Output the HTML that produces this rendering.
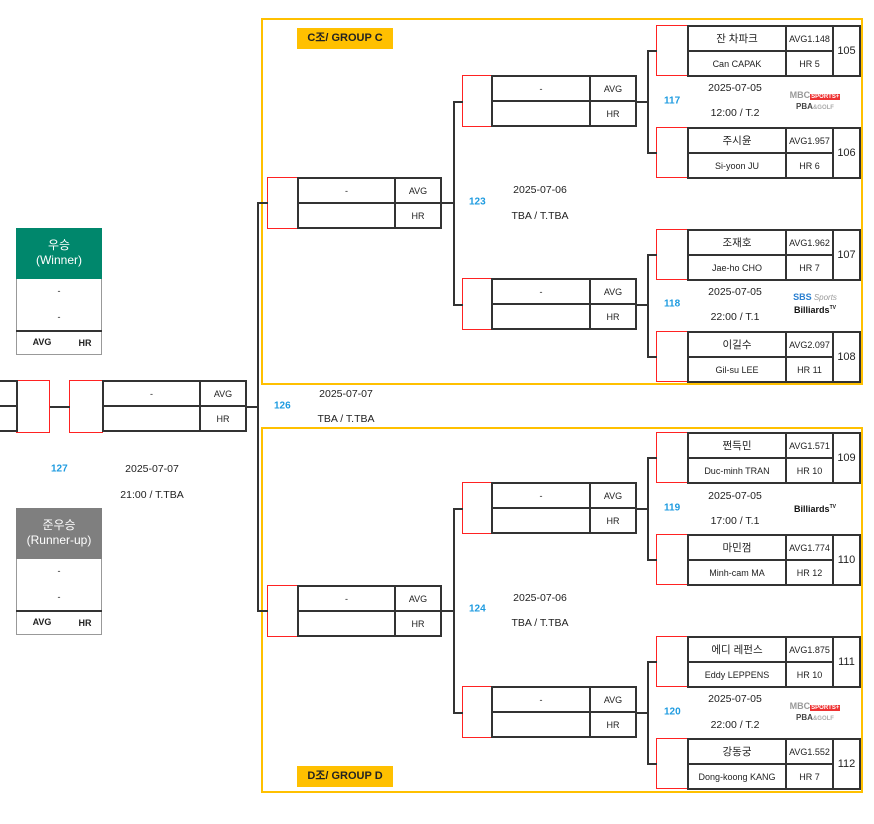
<!DOCTYPE html>
<html><head><meta charset="utf-8"><style>
body{margin:0;width:874px;height:824px;background:#fff;position:relative;overflow:hidden;font-family:"Liberation Sans","Noto Sans CJK KR",sans-serif;color:#222}
.a{position:absolute}
table{position:absolute;border-collapse:collapse;table-layout:fixed}
td{border:2px solid #333;padding:0;text-align:center;font-size:9px;overflow:hidden;white-space:nowrap}
.red{position:absolute;border:1.5px solid #f22;box-sizing:border-box;background:#fff}
.grp{position:absolute;border:2px solid #ffc000;box-sizing:border-box}
.lab{position:absolute;background:#ffc000;font-weight:bold;font-size:11px;text-align:center;line-height:21px}
.h{position:absolute;height:0;border-top:2px solid #333}
.v{position:absolute;width:0;border-left:2px solid #333}
.num{position:absolute;color:#1e9be0;font-weight:bold;font-size:10px;transform:translateY(-50%)}
.t{position:absolute;font-size:10.5px;transform:translate(-50%,-50%);white-space:nowrap}
.nm{font-size:10.5px}
.big{font-size:11px}
.mbc{position:absolute;font-size:8px;font-weight:bold;line-height:10px;text-align:center;width:70px}
</style></head><body>

<div class="grp" style="left:261px;top:18px;width:602px;height:367px"></div>
<div class="grp" style="left:261px;top:427px;width:602px;height:366px"></div>
<div class="lab" style="left:297px;top:28px;width:96px">C조/ GROUP C</div>
<div class="lab" style="left:297px;top:766px;width:96px">D조/ GROUP D</div>

<div class="red" style="left:656px;top:25px;width:32px;height:51px"></div>
<table style="left:687px;top:25px"><tr style="height:25px"><td style="width:96px" class="nm">잔 차파크</td><td style="width:45px">AVG1.148</td><td rowspan="2" style="width:25px" class="big">105</td></tr><tr style="height:25px"><td>Can CAPAK</td><td>HR 5</td></tr></table>
<div class="red" style="left:656px;top:127px;width:32px;height:51px"></div>
<table style="left:687px;top:127px"><tr style="height:25px"><td style="width:96px" class="nm">주시윤</td><td style="width:45px">AVG1.957</td><td rowspan="2" style="width:25px" class="big">106</td></tr><tr style="height:25px"><td>Si-yoon JU</td><td>HR 6</td></tr></table>
<div class="red" style="left:656px;top:229px;width:32px;height:51px"></div>
<table style="left:687px;top:229px"><tr style="height:25px"><td style="width:96px" class="nm">조재호</td><td style="width:45px">AVG1.962</td><td rowspan="2" style="width:25px" class="big">107</td></tr><tr style="height:25px"><td>Jae-ho CHO</td><td>HR 7</td></tr></table>
<div class="red" style="left:656px;top:331px;width:32px;height:51px"></div>
<table style="left:687px;top:331px"><tr style="height:25px"><td style="width:96px" class="nm">이길수</td><td style="width:45px">AVG2.097</td><td rowspan="2" style="width:25px" class="big">108</td></tr><tr style="height:25px"><td>Gil-su LEE</td><td>HR 11</td></tr></table>
<div class="red" style="left:656px;top:432px;width:32px;height:51px"></div>
<table style="left:687px;top:432px"><tr style="height:25px"><td style="width:96px" class="nm">쩐득민</td><td style="width:45px">AVG1.571</td><td rowspan="2" style="width:25px" class="big">109</td></tr><tr style="height:25px"><td>Duc-minh TRAN</td><td>HR 10</td></tr></table>
<div class="red" style="left:656px;top:534px;width:32px;height:51px"></div>
<table style="left:687px;top:534px"><tr style="height:25px"><td style="width:96px" class="nm">마민껌</td><td style="width:45px">AVG1.774</td><td rowspan="2" style="width:25px" class="big">110</td></tr><tr style="height:25px"><td>Minh-cam MA</td><td>HR 12</td></tr></table>
<div class="red" style="left:656px;top:636px;width:32px;height:51px"></div>
<table style="left:687px;top:636px"><tr style="height:25px"><td style="width:96px" class="nm">에디 레펀스</td><td style="width:45px">AVG1.875</td><td rowspan="2" style="width:25px" class="big">111</td></tr><tr style="height:25px"><td>Eddy LEPPENS</td><td>HR 10</td></tr></table>
<div class="red" style="left:656px;top:738px;width:32px;height:51px"></div>
<table style="left:687px;top:738px"><tr style="height:25px"><td style="width:96px" class="nm">강동궁</td><td style="width:45px">AVG1.552</td><td rowspan="2" style="width:25px" class="big">112</td></tr><tr style="height:25px"><td>Dong-koong KANG</td><td>HR 7</td></tr></table>

<div class="v" style="left:647px;top:50px;height:102px"></div><div class="h" style="left:647px;top:50px;width:10px"></div><div class="h" style="left:647px;top:152px;width:10px"></div><div class="h" style="left:637px;top:101px;width:10px"></div>
<div class="v" style="left:647px;top:254px;height:102px"></div><div class="h" style="left:647px;top:254px;width:10px"></div><div class="h" style="left:647px;top:356px;width:10px"></div><div class="h" style="left:637px;top:304px;width:10px"></div>
<div class="v" style="left:647px;top:457px;height:102px"></div><div class="h" style="left:647px;top:457px;width:10px"></div><div class="h" style="left:647px;top:559px;width:10px"></div><div class="h" style="left:637px;top:508px;width:10px"></div>
<div class="v" style="left:647px;top:661px;height:102px"></div><div class="h" style="left:647px;top:661px;width:10px"></div><div class="h" style="left:647px;top:763px;width:10px"></div><div class="h" style="left:637px;top:712px;width:10px"></div>

<div class="num" style="left:664px;top:101px">117</div><div class="t" style="left:735px;top:88px">2025-07-05</div><div class="t" style="left:735px;top:113px">12:00 / T.2</div>
<div class="num" style="left:664px;top:304px">118</div><div class="t" style="left:735px;top:292px">2025-07-05</div><div class="t" style="left:735px;top:317px">22:00 / T.1</div>
<div class="num" style="left:664px;top:508px">119</div><div class="t" style="left:735px;top:496px">2025-07-05</div><div class="t" style="left:735px;top:521px">17:00 / T.1</div>
<div class="num" style="left:664px;top:712px">120</div><div class="t" style="left:735px;top:699px">2025-07-05</div><div class="t" style="left:735px;top:725px">22:00 / T.2</div>

<div class="mbc" style="left:780px;top:90px"><span style="color:#999;font-size:9px">MBC</span><span style="background:#e33;color:#fff;font-size:6px;padding:0 1px">SPORTS+</span><br><span style="color:#444">PBA</span><span style="color:#aaa;font-size:6px">&amp;GOLF</span></div>
<div class="mbc" style="left:780px;top:701px"><span style="color:#999;font-size:9px">MBC</span><span style="background:#e33;color:#fff;font-size:6px;padding:0 1px">SPORTS+</span><br><span style="color:#444">PBA</span><span style="color:#aaa;font-size:6px">&amp;GOLF</span></div>
<div class="mbc" style="left:780px;top:292px"><span style="color:#2a7fd0;font-size:9px">SBS</span> <span style="color:#999;font-style:italic;font-weight:normal">Sports</span><br><span style="color:#111;font-size:9px">Billiards<sup style="font-size:5px">TV</sup></span></div>
<div class="mbc" style="left:780px;top:502px"><span style="color:#111;font-size:9px">Billiards<sup style="font-size:5px">TV</sup></span></div>

<div class="red" style="left:462px;top:75px;width:30px;height:52px"></div>
<table style="left:491px;top:75px"><tr style="height:25px"><td style="width:96px">-</td><td style="width:44px">AVG</td></tr><tr style="height:25px"><td></td><td>HR</td></tr></table>
<div class="red" style="left:462px;top:278px;width:30px;height:52px"></div>
<table style="left:491px;top:278px"><tr style="height:25px"><td style="width:96px">-</td><td style="width:44px">AVG</td></tr><tr style="height:25px"><td></td><td>HR</td></tr></table>
<div class="red" style="left:462px;top:482px;width:30px;height:52px"></div>
<table style="left:491px;top:482px"><tr style="height:25px"><td style="width:96px">-</td><td style="width:44px">AVG</td></tr><tr style="height:25px"><td></td><td>HR</td></tr></table>
<div class="red" style="left:462px;top:686px;width:30px;height:52px"></div>
<table style="left:491px;top:686px"><tr style="height:25px"><td style="width:96px">-</td><td style="width:44px">AVG</td></tr><tr style="height:25px"><td></td><td>HR</td></tr></table>

<div class="v" style="left:453px;top:101px;height:203px"></div><div class="h" style="left:453px;top:101px;width:10px"></div><div class="h" style="left:453px;top:304px;width:10px"></div><div class="h" style="left:442px;top:202px;width:11px"></div>
<div class="v" style="left:453px;top:508px;height:204px"></div><div class="h" style="left:453px;top:508px;width:10px"></div><div class="h" style="left:453px;top:712px;width:10px"></div><div class="h" style="left:442px;top:610px;width:11px"></div>
<div class="num" style="left:469px;top:202px">123</div><div class="t" style="left:540px;top:190px">2025-07-06</div><div class="t" style="left:540px;top:216px">TBA / T.TBA</div>
<div class="num" style="left:469px;top:609px">124</div><div class="t" style="left:540px;top:598px">2025-07-06</div><div class="t" style="left:540px;top:623px">TBA / T.TBA</div>

<div class="red" style="left:267px;top:177px;width:31px;height:52px"></div>
<table style="left:297px;top:177px"><tr style="height:25px"><td style="width:95px">-</td><td style="width:44px">AVG</td></tr><tr style="height:25px"><td></td><td>HR</td></tr></table>
<div class="red" style="left:267px;top:585px;width:31px;height:52px"></div>
<table style="left:297px;top:585px"><tr style="height:25px"><td style="width:95px">-</td><td style="width:44px">AVG</td></tr><tr style="height:25px"><td></td><td>HR</td></tr></table>
<div class="v" style="left:257px;top:202px;height:408px"></div><div class="h" style="left:257px;top:202px;width:11px"></div><div class="h" style="left:257px;top:610px;width:11px"></div><div class="h" style="left:247px;top:406px;width:10px"></div>
<div class="num" style="left:274px;top:406px">126</div><div class="t" style="left:346px;top:394px">2025-07-07</div><div class="t" style="left:346px;top:419px">TBA / T.TBA</div>

<div class="red" style="left:69px;top:380px;width:34px;height:53px"></div>
<table style="left:102px;top:380px"><tr style="height:25px"><td style="width:95px">-</td><td style="width:44px">AVG</td></tr><tr style="height:25px"><td></td><td>HR</td></tr></table>
<div class="red" style="left:16px;top:380px;width:34px;height:53px"></div>
<table style="left:-2px;top:380px"><tr style="height:25px"><td style="width:16px"></td></tr><tr style="height:25px"><td></td></tr></table>
<div class="h" style="left:50px;top:406px;width:20px"></div>
<div class="num" style="left:51px;top:469px">127</div><div class="t" style="left:152px;top:469px">2025-07-07</div><div class="t" style="left:152px;top:495px">21:00 / T.TBA</div>

<div class="a" style="left:16px;top:228px;width:86px;height:51px;background:#00876c;color:#fff;font-size:12px;text-align:center;line-height:15px;padding-top:10px;box-sizing:border-box">우승<br>(Winner)</div>
<div class="a" style="left:16px;top:279px;width:86px;height:76px;border:1px solid #999;border-top:none;box-sizing:border-box"></div>
<div class="h" style="left:16px;top:330px;width:86px"></div>
<div class="t" style="left:59px;top:291px;font-size:9px">-</div><div class="t" style="left:59px;top:317px;font-size:9px">-</div>
<div class="t" style="left:42px;top:342px;font-size:9px;font-weight:bold">AVG</div><div class="t" style="left:85px;top:343px;font-size:9px;font-weight:bold">HR</div>

<div class="a" style="left:16px;top:508px;width:86px;height:51px;background:#7f7f7f;color:#fff;font-size:12px;text-align:center;line-height:15px;padding-top:10px;box-sizing:border-box">준우승<br>(Runner-up)</div>
<div class="a" style="left:16px;top:559px;width:86px;height:76px;border:1px solid #999;border-top:none;box-sizing:border-box"></div>
<div class="h" style="left:16px;top:610px;width:86px"></div>
<div class="t" style="left:59px;top:571px;font-size:9px">-</div><div class="t" style="left:59px;top:597px;font-size:9px">-</div>
<div class="t" style="left:42px;top:622px;font-size:9px;font-weight:bold">AVG</div><div class="t" style="left:85px;top:623px;font-size:9px;font-weight:bold">HR</div>

</body></html>
